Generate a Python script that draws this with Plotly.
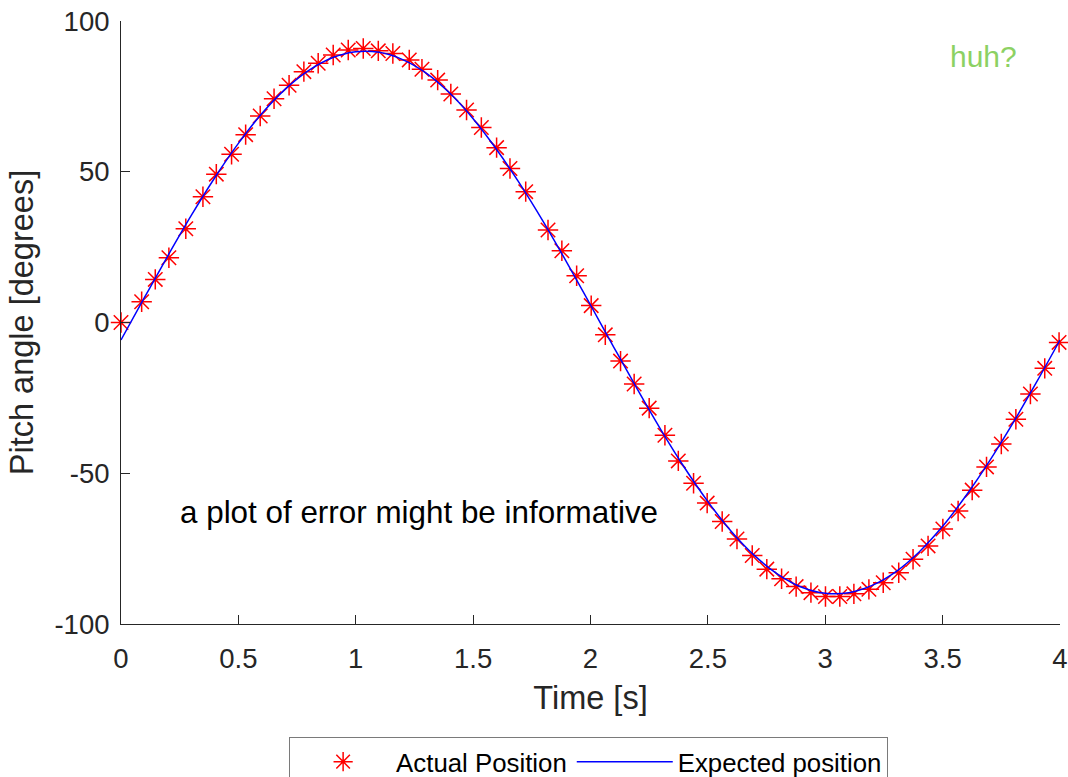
import plotly.graph_objects as go

# Measured pitch angle samples (time in s, angle in degrees)
actual_t = [0.0, 0.088, 0.146, 0.204, 0.276, 0.349, 0.406, 0.471, 0.531, 0.593,
            0.652, 0.716, 0.779, 0.840, 0.904, 0.968, 1.032, 1.096, 1.158, 1.228,
            1.282, 1.349, 1.405, 1.472, 1.535, 1.600, 1.657, 1.724, 1.819, 1.878,
            1.941, 2.003, 2.063, 2.128, 2.186, 2.250, 2.317, 2.374, 2.439, 2.497,
            2.561, 2.624, 2.689, 2.751, 2.814, 2.876, 2.939, 3.001, 3.062, 3.122,
            3.186, 3.247, 3.313, 3.374, 3.438, 3.501, 3.566, 3.626, 3.687, 3.750,
            3.812, 3.874, 3.935, 3.996]
actual_deg = [0.0, 6.9, 14.3, 21.5, 31.1, 41.7, 49.2, 55.8, 62.3, 68.5,
              74.2, 78.7, 83.2, 86.0, 88.7, 90.4, 90.9, 90.1, 89.2, 87.1,
              84.0, 80.4, 75.8, 70.5, 64.7, 58.0, 51.1, 43.4, 30.7, 23.8,
              15.5, 5.6, -4.1, -12.8, -20.4, -28.4, -37.4, -45.9, -53.3, -59.9,
              -66.0, -71.8, -77.3, -81.8, -85.0, -87.6, -89.6, -90.9, -90.9, -90.0,
              -88.5, -86.3, -83.0, -78.5, -74.1, -68.5, -62.5, -55.6, -47.9, -40.3,
              -32.1, -23.7, -15.2, -6.6]

# Expected trajectory
expected_t = [0.0, 0.1, 0.2, 0.3, 0.4, 0.5, 0.6, 0.7, 0.8, 0.9, 1.0,
              1.1, 1.2, 1.3, 1.4, 1.5, 1.6, 1.7, 1.8, 1.9, 2.0,
              2.1, 2.2, 2.3, 2.4, 2.5, 2.6, 2.7, 2.8, 2.9, 3.0,
              3.1, 3.2, 3.3, 3.4, 3.5, 3.6, 3.7, 3.8, 3.9, 4.0]
expected_deg = [-5.8, 8.3, 22.2, 35.6, 48.1, 59.4, 69.3, 77.4, 83.6, 87.8, 89.8,
                89.6, 87.2, 82.7, 76.1, 67.6, 57.4, 45.9, 33.3, 19.8, 5.8,
                -8.3, -22.2, -35.6, -48.1, -59.4, -69.3, -77.4, -83.6, -87.8, -89.8,
                -89.6, -87.2, -82.7, -76.1, -67.6, -57.4, -45.9, -33.3, -19.8, -5.8]

x_ticks = [0, 0.5, 1, 1.5, 2, 2.5, 3, 3.5, 4]
x_tick_text = ["0", "0.5", "1", "1.5", "2", "2.5", "3", "3.5", "4"]
y_ticks = [-100, -50, 0, 50, 100]
y_tick_text = ["-100", "-50", "0", "50", "100"]

FONT = "Liberation Sans, Arial, Helvetica, sans-serif"
AXIS_COLOR = "#262626"

fig = go.Figure()

fig.add_trace(go.Scatter(
    x=actual_t, y=actual_deg, mode="markers", name="Actual Position",
    marker=dict(symbol="asterisk-open", size=17, color="#ff0000",
                line=dict(color="#ff0000", width=1.5)),
    cliponaxis=False,
))
fig.add_trace(go.Scatter(
    x=expected_t, y=expected_deg, mode="lines", name="Expected position",
    line=dict(color="#0000ff", width=1.5, shape="spline"),
))

fig.add_annotation(x=0.243, y=-63, text="a plot of error might be informative",
                   showarrow=False, xanchor="left", yanchor="middle",
                   font=dict(family=FONT, size=31.4, color="#000000"))
fig.add_annotation(x=3.525, y=88.3, text="huh?", showarrow=False,
                   xanchor="left", yanchor="middle",
                   font=dict(family=FONT, size=30, color="#8cd163"))

axis_common = dict(
    showgrid=False, zeroline=False, showline=True, linecolor=AXIS_COLOR,
    linewidth=1, ticks="inside", ticklen=9, tickwidth=1, tickcolor=AXIS_COLOR,
    tickfont=dict(family=FONT, size=27.5, color=AXIS_COLOR), mirror=False,
    automargin=False,
)

fig.update_xaxes(range=[0, 4], tickvals=x_ticks, ticktext=x_tick_text,
                 ticklabelstandoff=10,
                 title=dict(text="Time [s]", font=dict(family=FONT, size=32.5, color=AXIS_COLOR),
                            standoff=13),
                 **axis_common)
fig.update_yaxes(range=[-100, 100], tickvals=y_ticks, ticktext=y_tick_text,
                 ticklabelstandoff=5,
                 title=dict(text="Pitch angle [degrees]",
                            font=dict(family=FONT, size=32.5, color=AXIS_COLOR), standoff=11),
                 **axis_common)

fig.update_layout(
    width=1068, height=777,
    margin=dict(l=121, r=8, t=21, b=153, autoexpand=False),
    paper_bgcolor="white", plot_bgcolor="white",
    font=dict(family=FONT, color=AXIS_COLOR),
    showlegend=True,
    legend=dict(orientation="h", x=0.498, xanchor="center", y=-0.188, yanchor="top",
                bordercolor="#7a7a7a", borderwidth=1, bgcolor="white",
                font=dict(family=FONT, size=25.8, color="#000000"),
                itemwidth=96),
)

fig.write_html("out.html")
